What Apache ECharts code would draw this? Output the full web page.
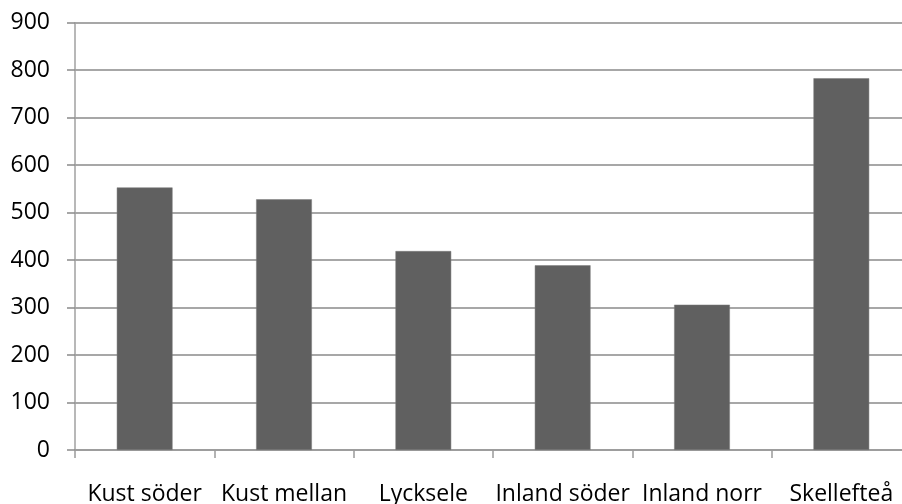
<!DOCTYPE html>
<html>
<head>
<meta charset="utf-8">
<script src="https://cdn.jsdelivr.net/npm/echarts@6/dist/echarts.min.js"></script>
<style>html,body{margin:0;padding:0;background:#fff;overflow:hidden}#c{width:902px;height:504px}</style>
</head>
<body>
<div id="c"></div>
<script>
const categories = ['Kust söder', 'Kust mellan', 'Lycksele', 'Inland söder', 'Inland norr', 'Skellefteå'];
const values = [553, 528, 419, 389, 306, 783];
const yTicks = [0, 100, 200, 300, 400, 500, 600, 700, 800, 900];

const chart = echarts.init(document.getElementById('c'), null, {renderer: 'canvas'});
const font = '"Open Sans", sans-serif';
chart.setOption({
  animation: false,
  grid: {left: 75, width: 836, top: 22.7, height: 427.3, containLabel: false, outerBoundsMode: 'none'},
  xAxis: {
    type: 'category',
    data: categories,
    axisLine: {lineStyle: {color: '#9a9a9a', width: 1.5}},
    axisTick: {show: true, length: 8, alignWithLabel: false, lineStyle: {color: '#9a9a9a', width: 1.5}},
    axisLabel: {color: '#000', fontFamily: font, fontSize: 23, margin: 33, interval: 0, hideOverlap: false}
  },
  yAxis: {
    type: 'value',
    min: yTicks[0],
    max: yTicks[yTicks.length - 1],
    interval: 100,
    axisLine: {show: true, lineStyle: {color: '#a0a0a0', width: 1.5}},
    axisTick: {show: true, length: 8, lineStyle: {color: '#8a8a8a', width: 1.5}},
    axisLabel: {color: '#000', fontFamily: font, fontSize: 23, margin: 25},
    splitLine: {show: true, lineStyle: {color: '#8a8a8a', width: 1.5}}
  },
  series: [{
    type: 'bar',
    data: values,
    barWidth: '40%',
    itemStyle: {color: '#606060', borderColor: '#7a7a7a', borderWidth: 0.5}
  }]
});
</script>
</body>
</html>
